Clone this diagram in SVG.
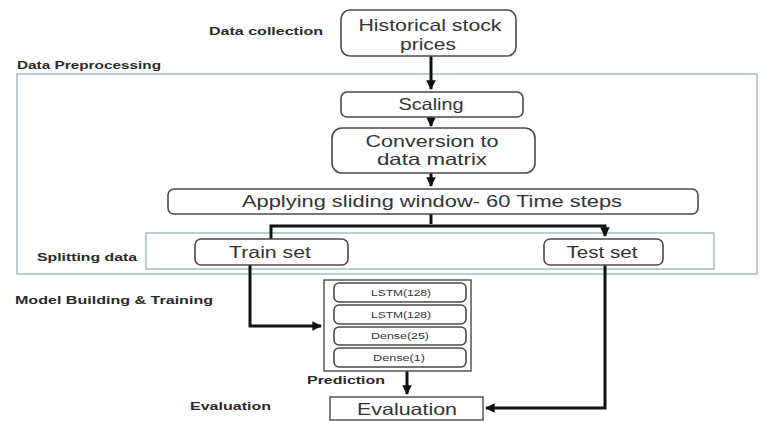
<svg xmlns="http://www.w3.org/2000/svg" width="764" height="421" viewBox="0 0 764 421">
<defs>
<marker id="ah" viewBox="0 0 10 10" refX="9" refY="5" markerWidth="3.2" markerHeight="3.2" orient="auto" markerUnits="strokeWidth">
<path d="M0,0 L10,5 L0,10 z" fill="#111"/>
</marker>
<style>
.panel{fill:none;stroke:#a3bfc2;stroke-width:1.5}
.box{fill:#fff;stroke:#4a4a4a;stroke-width:1.6}
.lbl{font-family:"Liberation Sans",Arial,sans-serif;font-weight:bold;font-size:11.5px;fill:#2a2a2a}
.t{font-family:"Liberation Sans",Arial,sans-serif;font-size:16.5px;fill:#333;text-anchor:middle}
.s{font-family:"Liberation Sans",Arial,sans-serif;font-size:8.5px;fill:#333;text-anchor:middle}
.c{fill:none;stroke:#111;stroke-width:3}
</style>
</defs>
<rect width="764" height="421" fill="#fff"/>
<g id="panels">
<rect class="panel" x="17" y="74" width="740" height="200"/>
<rect class="panel" x="146" y="233" width="568" height="36"/>
</g>
<g id="labels">
<text class="lbl" x="209" y="35" textLength="114" lengthAdjust="spacingAndGlyphs">Data collection</text>
<text class="lbl" x="17" y="69" textLength="144" lengthAdjust="spacingAndGlyphs">Data Preprocessing</text>
<text class="lbl" x="37" y="261" font-size="10.5" textLength="100" lengthAdjust="spacingAndGlyphs">Splitting data</text>
<text class="lbl" x="15" y="304" textLength="198" lengthAdjust="spacingAndGlyphs">Model Building &amp; Training</text>
<text class="lbl" x="307" y="384" textLength="78" lengthAdjust="spacingAndGlyphs">Prediction</text>
<text class="lbl" x="190" y="410" textLength="81" lengthAdjust="spacingAndGlyphs">Evaluation</text>
</g>
<g id="connectors">
<path class="c" d="M431,56 V89" marker-end="url(#ah)"/>
<path class="c" d="M431,117 V126" marker-end="url(#ah)"/>
<path class="c" d="M431,173 V186" marker-end="url(#ah)"/>
<path class="c" d="M431,214 V224"/>
<path class="c" d="M271,239 V226 H605 V236" marker-end="url(#ah)"/>
<path class="c" d="M250,265 V326 H321" marker-end="url(#ah)"/>
<path class="c" d="M605,265 V408 H486" marker-end="url(#ah)"/>
<path class="c" d="M407,371 V394" marker-end="url(#ah)"/>
</g>
<g id="n-historical">
<rect class="box" x="341" y="10" width="175" height="46" rx="9"/>
<text class="t" x="430" y="31" textLength="143" lengthAdjust="spacingAndGlyphs">Historical stock</text>
<text class="t" x="428" y="50" textLength="56" lengthAdjust="spacingAndGlyphs">prices</text>
</g>
<g id="n-scaling">
<rect class="box" x="341" y="92" width="182" height="25" rx="6"/>
<text class="t" x="431" y="110" textLength="65" lengthAdjust="spacingAndGlyphs">Scaling</text>
</g>
<g id="n-conversion">
<rect class="box" x="332" y="128" width="203" height="45" rx="10"/>
<text class="t" x="432" y="147" textLength="133" lengthAdjust="spacingAndGlyphs">Conversion to</text>
<text class="t" x="432" y="165" textLength="110" lengthAdjust="spacingAndGlyphs">data matrix</text>
</g>
<g id="n-window">
<rect class="box" x="168" y="189" width="530" height="25" rx="6"/>
<text class="t" x="432" y="207" textLength="380" lengthAdjust="spacingAndGlyphs">Applying sliding window- 60 Time steps</text>
</g>
<g id="n-train">
<rect class="box" x="195" y="239" width="153" height="26" rx="6"/>
<text class="t" x="270" y="258" textLength="82" lengthAdjust="spacingAndGlyphs">Train set</text>
</g>
<g id="n-test">
<rect class="box" x="544" y="239" width="119" height="26" rx="6"/>
<text class="t" x="602" y="258" textLength="71" lengthAdjust="spacingAndGlyphs">Test set</text>
</g>
<g id="n-model">
<rect x="324" y="280" width="147" height="91" fill="#fff" stroke="#555" stroke-width="1.5"/>
<rect class="box" x="334" y="283" width="132" height="19" rx="5" stroke-width="1.3"/>
<text class="s" x="401" y="296" textLength="60" lengthAdjust="spacingAndGlyphs">LSTM(128)</text>
<rect class="box" x="334" y="305" width="132" height="19" rx="5" stroke-width="1.3"/>
<text class="s" x="401" y="318" textLength="60" lengthAdjust="spacingAndGlyphs">LSTM(128)</text>
<rect class="box" x="334" y="327" width="132" height="18" rx="5" stroke-width="1.3"/>
<text class="s" x="400" y="339" textLength="58" lengthAdjust="spacingAndGlyphs">Dense(25)</text>
<rect class="box" x="334" y="348" width="132" height="19" rx="5" stroke-width="1.3"/>
<text class="s" x="399" y="361" textLength="52" lengthAdjust="spacingAndGlyphs">Dense(1)</text>
</g>
<g id="n-evaluation">
<rect x="330" y="397" width="153" height="23" fill="#fff" stroke="#555" stroke-width="1.5"/>
<text class="t" x="407" y="415" font-size="18" textLength="100" lengthAdjust="spacingAndGlyphs">Evaluation</text>
</g>
</svg>
